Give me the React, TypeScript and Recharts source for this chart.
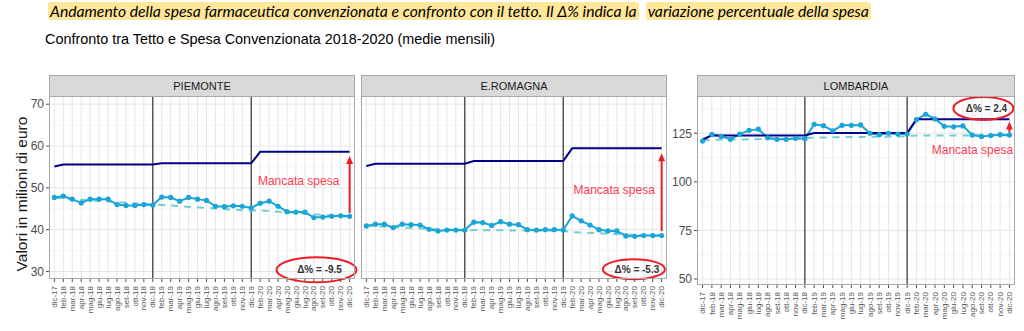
import React from 'react';
import {
  LineChart, Line, XAxis, YAxis, CartesianGrid,
  ReferenceLine, ReferenceDot,
} from 'recharts';

// ── Data ──────────────────────────────────────────────────────
const months = [
  'dic-17', 'feb-18', 'mar-18', 'apr-18', 'mag-18', 'giu-18', 'lug-18', 'ago-18', 'set-18', 'ott-18', 'nov-18',
  'dic-18', 'feb-19', 'mar-19', 'apr-19', 'mag-19', 'giu-19', 'lug-19', 'ago-19', 'set-19', 'ott-19', 'nov-19',
  'dic-19', 'feb-20', 'mar-20', 'apr-20', 'mag-20', 'giu-20', 'lug-20', 'ago-20', 'set-20', 'ott-20', 'nov-20', 'dic-20',
];
const _ = null;

const piemonteSpesa = [
  47.7, 48.0, 47.3, 46.4, 47.3, 47.3, 47.3, 46.0, 45.8, 45.8, 46.0, 45.9,
  47.8, 47.7, 46.8, 47.7, 47.3, 47.0, 45.6, 45.5, 45.7, 45.6, 45.2,
  46.3, 46.8, 45.6, 44.3, 44.2, 44.2, 42.9, 43.0, 43.2, 43.3, 43.2,
];
const piemonteTetto = [
  55.1, 55.6, 55.6, 55.6, 55.6, 55.6, 55.6, 55.6, 55.6, 55.6, 55.6, 55.6,
  55.85, 55.85, 55.85, 55.85, 55.85, 55.85, 55.85, 55.85, 55.85, 55.85, 55.85,
  58.6, 58.6, 58.6, 58.6, 58.6, 58.6, 58.6, 58.6, 58.6, 58.6, 58.6,
];
const piemonteTrend = [
  47.6, _, _, _, _, _, _, _, _, _, _, 46.0,
  45.9, _, _, _, _, _, _, _, _, _, 44.5,
  44.6, _, _, _, _, _, _, _, _, _, 43.1,
];

const romagnaSpesa = [
  40.9, 41.3, 41.3, 40.5, 41.3, 41.2, 41.1, 40.1, 39.7, 39.9, 39.9, 39.9,
  41.8, 41.7, 41.0, 41.9, 41.3, 41.2, 40.0, 39.9, 40.0, 40.0, 39.9,
  43.3, 42.1, 41.1, 40.0, 39.7, 39.7, 38.5, 38.4, 38.6, 38.6, 38.6,
];
const romagnaTetto = [
  55.2, 55.75, 55.75, 55.75, 55.75, 55.75, 55.75, 55.75, 55.75, 55.75, 55.75, 55.75,
  56.4, 56.4, 56.4, 56.4, 56.4, 56.4, 56.4, 56.4, 56.4, 56.4, 56.4,
  59.45, 59.45, 59.45, 59.45, 59.45, 59.45, 59.45, 59.45, 59.45, 59.45, 59.45,
];
const romagnaTrend = [
  40.9, _, _, _, _, _, _, _, _, _, _, 39.8,
  39.9, _, _, _, _, _, _, _, _, _, 39.7,
  39.4, _, _, _, _, _, _, _, _, _, 38.5,
];

const lombardiaSpesa = [
  121.0, 124.5, 123.4, 121.9, 124.6, 126.5, 127.1, 122.7, 121.9, 121.9, 122.4, 122.2,
  129.6, 128.9, 126.3, 129.1, 129.1, 129.3, 125.0, 124.3, 125.0, 124.6, 124.6,
  132.0, 134.8, 132.4, 128.6, 128.3, 128.8, 124.1, 123.4, 123.8, 124.3, 124.1,
];
const lombardiaTetto = [
  121.8, 123.9, 123.9, 123.9, 123.9, 123.9, 123.9, 123.9, 123.9, 123.9, 123.9, 123.9,
  125.1, 125.1, 125.1, 125.1, 125.1, 125.1, 125.1, 125.1, 125.1, 125.1, 125.1,
  132.2, 132.2, 132.2, 132.2, 132.2, 132.2, 132.2, 132.2, 132.2, 132.2, 132.2,
];
const lombardiaTrend = [
  121.5, _, _, _, _, _, _, _, _, _, _, 122.4,
  122.8, _, _, _, _, _, _, _, _, _, 123.4,
  123.8, _, _, _, _, _, _, _, _, _, 124.0,
];

const yearBreaks = [11, 22];
const smallTicks = [30, 40, 50, 60, 70];
const smallMinor = [35, 45, 55, 65];
const bigTicks = [50, 75, 100, 125];
const bigMinor = [62.5, 87.5, 112.5, 137.5];

// ── Styles ────────────────────────────────────────────────────
const SANS = '"Liberation Sans", Arial, sans-serif';
const RED = '#EE1C25';
const TEXT_RED = '#FF3B50';

type PanelCfg = {
  name: string;
  spesa: number[];
  tetto: number[];
  trend: (number | null)[];
  chartLeft: number;
  chartWidth: number;
  plotLeft: number;
  plotRight: number;
  plotBottom: number;
  marginLeft: number;
  yWidth: number;
  showY: boolean;
  domain: [number, number];
  ticks: number[];
  minor: number[];
  delta: string;
  deltaAt: { x: number; y: number; rx: number; ry: number };
  textAt: { x: number; y: number; anchor: 'middle' | 'end' };
  arrow: [number, number];
};

const XTick = (props: any) => {
  const { x, y, payload } = props;
  return (
    <text
      x={x} y={y + 2} dy="0.33em"
      transform={`rotate(-90, ${x}, ${y + 2})`}
      textAnchor="end" fontSize={8} fill="#555555" fontFamily={SANS}
    >
      {months[payload.value]}
    </text>
  );
};

const arrowShape = (p: any) => {
  const { x1, y1, x2, y2 } = p;
  const top = Math.min(y1, y2);
  const bottom = Math.max(y1, y2);
  const x = (x1 + x2) / 2;
  return (
    <g>
      <line x1={x} y1={bottom} x2={x} y2={top + 6} stroke={RED} strokeWidth={2} />
      <polygon points={`${x},${top} ${x - 3.5},${top + 8} ${x + 3.5},${top + 8}`} fill={RED} />
    </g>
  );
};

function Panel({ cfg }: { cfg: PanelCfg }) {
  const data = months.map((m, i) => ({
    i, label: m, spesa: cfg.spesa[i], tetto: cfg.tetto[i], trend: cfg.trend[i],
  }));
  const chartHeight = 331 - 95;
  const xHeight = chartHeight - (cfg.plotBottom - 95);
  const marginRight = cfg.chartLeft + cfg.chartWidth - cfg.plotRight;
  const idx = months.map((_m, i) => i);

  return (
    <>
      <div style={{ position: 'absolute', left: cfg.chartLeft, top: 95 }}>
        <LineChart
          width={cfg.chartWidth}
          height={chartHeight}
          data={data}
          margin={{ top: 0, right: marginRight, left: cfg.marginLeft, bottom: 0 }}
        >
          <CartesianGrid horizontal vertical={false} horizontalValues={cfg.minor} stroke="#F3F3F3" strokeWidth={0.8} />
          <CartesianGrid horizontalValues={cfg.ticks} verticalValues={idx} stroke="#E6E6E6" strokeWidth={1} />
          <XAxis
            dataKey="i" type="number" domain={[-0.6, 33.6]} ticks={idx} interval={0}
            axisLine={false} tickLine={{ stroke: '#4D4D4D' }} tickSize={3}
            tick={<XTick />} height={xHeight} allowDataOverflow
          />
          <YAxis
            type="number" domain={cfg.domain} ticks={cfg.ticks} allowDataOverflow
            hide={!cfg.showY} width={cfg.showY ? cfg.yWidth : 0}
            axisLine={false} tickLine={{ stroke: '#4D4D4D' }} tickSize={3}
            tick={{ fontSize: 12, fill: '#4D4D4D', fontFamily: SANS }}
          />
          {yearBreaks.map(b => (
            <ReferenceLine key={b} x={b} stroke="#333333" strokeWidth={1.2} />
          ))}
          <Line
            dataKey="trend" connectNulls stroke="#73CFD1" strokeWidth={2}
            strokeDasharray="7 6" dot={false} isAnimationActive={false}
          />
          <Line
            dataKey="spesa" stroke="#1AA5D8" strokeWidth={2}
            dot={{ r: 2.6, fill: '#1AA5D8', stroke: 'none' }} isAnimationActive={false}
          />
          <Line
            dataKey="tetto" stroke="#000088" strokeWidth={2} dot={false} isAnimationActive={false}
          />
          <ReferenceLine
            segment={[{ x: 33, y: cfg.arrow[0] }, { x: 33, y: cfg.arrow[1] }]}
            ifOverflow="visible" shape={arrowShape}
          />
          <ReferenceDot
            x={cfg.textAt.x} y={cfg.textAt.y} ifOverflow="visible"
            shape={(p: any) => (
              <text x={p.cx} y={p.cy} dy="0.35em" textAnchor={cfg.textAt.anchor}
                fontSize={12} fill={TEXT_RED} fontFamily={SANS}>
                Mancata spesa
              </text>
            )}
          />
          <ReferenceDot
            x={cfg.deltaAt.x} y={cfg.deltaAt.y} ifOverflow="visible"
            shape={(p: any) => (
              <g>
                <ellipse cx={p.cx} cy={p.cy} rx={cfg.deltaAt.rx} ry={cfg.deltaAt.ry}
                  fill="none" stroke={RED} strokeWidth={2} />
                <text x={p.cx + 3} y={p.cy} dy="0.35em" textAnchor="middle"
                  fontSize={10} fontWeight="bold" fill="#333333" fontFamily={SANS}>
                  {cfg.delta}
                </text>
              </g>
            )}
          />
        </LineChart>
      </div>
      <div
        style={{
          position: 'absolute', left: cfg.plotLeft, top: 75,
          width: cfg.plotRight - cfg.plotLeft, height: cfg.plotBottom - 75,
          border: '1px solid #A8A8A8', boxSizing: 'border-box', pointerEvents: 'none',
        }}
      >
        <div
          style={{
            height: 20, background: '#D9D9D9', borderBottom: '1px solid #A8A8A8',
            textAlign: 'center', lineHeight: '20px', fontSize: 11, color: '#1A1A1A',
            fontFamily: SANS,
          }}
        >
          {cfg.name}
        </div>
      </div>
    </>
  );
}

const panels: PanelCfg[] = [
  {
    name: 'PIEMONTE', spesa: piemonteSpesa, tetto: piemonteTetto, trend: piemonteTrend,
    chartLeft: 0, chartWidth: 360, plotLeft: 49, plotRight: 355, plotBottom: 279,
    marginLeft: 0, yWidth: 49, showY: true,
    domain: [28.2, 72.2], ticks: smallTicks, minor: smallMinor,
    delta: 'Δ% = -9.5', deltaAt: { x: 29.3, y: 30.4, rx: 40, ry: 12.5 },
    textAt: { x: 27.3, y: 51.6, anchor: 'middle' }, arrow: [44.0, 57.6],
  },
  {
    name: 'E.ROMAGNA', spesa: romagnaSpesa, tetto: romagnaTetto, trend: romagnaTrend,
    chartLeft: 356, chartWidth: 316, plotLeft: 361, plotRight: 667, plotBottom: 279,
    marginLeft: 5, yWidth: 0, showY: false,
    domain: [28.2, 72.2], ticks: smallTicks, minor: smallMinor,
    delta: 'Δ% = -5.3', deltaAt: { x: 29.9, y: 30.55, rx: 31, ry: 10 },
    textAt: { x: 27.7, y: 49.5, anchor: 'middle' }, arrow: [39.7, 58.3],
  },
  {
    name: 'LOMBARDIA', spesa: lombardiaSpesa, tetto: lombardiaTetto, trend: lombardiaTrend,
    chartLeft: 662, chartWidth: 358, plotLeft: 697, plotRight: 1015, plotBottom: 285,
    marginLeft: 0, yWidth: 35, showY: true,
    domain: [46.9, 144.7], ticks: bigTicks, minor: bigMinor,
    delta: 'Δ% = 2.4', deltaAt: { x: 30.2, y: 137.8, rx: 30, ry: 11.5 },
    textAt: { x: 33.4, y: 116.4, anchor: 'end' }, arrow: [125.3, 131.0],
  },
];

export default function App() {
  const hl: React.CSSProperties = { background: '#FFE699', borderRadius: 3, padding: '0 2px' };
  return (
    <div style={{ position: 'absolute', left: 0, top: 0, width: 1024, height: 331, background: '#fff', overflow: 'hidden' }}>
      <div
        style={{
          position: 'absolute', left: 48, top: 2, whiteSpace: 'nowrap',
          fontFamily: 'Lato, "Open Sans", sans-serif', fontStyle: 'italic', fontSize: 15.7, color: '#000',
        }}
      >
        <span style={hl}>Andamento della spesa farmaceutica convenzionata e confronto con il tetto. Il Δ% indica la</span>
        <span style={{ display: 'inline-block', width: 7 }} />
        <span style={hl}>variazione percentuale della spesa</span>
      </div>
      <div
        style={{
          position: 'absolute', left: 45, top: 31, whiteSpace: 'nowrap',
          fontFamily: SANS, fontSize: 14.4, color: '#000',
        }}
      >
        Confronto tra Tetto e Spesa Convenzionata 2018-2020 (medie mensili)
      </div>
      <div
        style={{
          position: 'absolute', left: 22 - 100, top: 194 - 9, width: 200, height: 18,
          textAlign: 'center', transform: 'rotate(-90deg)', fontFamily: SANS,
          fontSize: 15.5, color: '#1A1A1A', lineHeight: '18px', whiteSpace: 'nowrap',
        }}
      >
        Valori in milioni di euro
      </div>
      {panels.map(p => <Panel key={p.name} cfg={p} />)}
    </div>
  );
}
